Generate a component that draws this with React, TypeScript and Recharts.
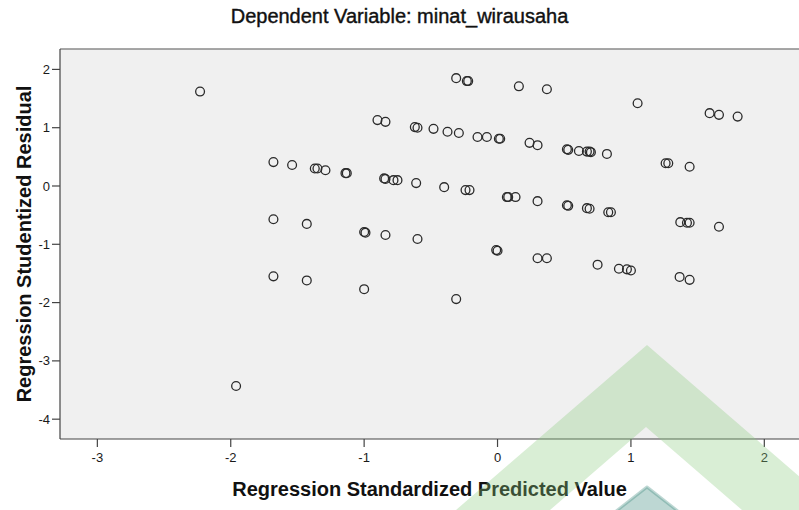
import {
  ScatterChart,
  Scatter,
  XAxis,
  YAxis,
  CartesianGrid,
  ReferenceLine,
} from 'recharts';

const predictedValues = [
  -2.23, -1.96, -1.68, -1.54, -1.68, -1.68, -1.43, -1.43, -1.37, -1.35,
  -1.29, -1.14, -1.13, -1.0, -0.99, -1.0, -0.9, -0.84, -0.85, -0.84,
  -0.78, -0.75, -0.84, -0.62, -0.6, -0.61, -0.6, -0.48, -0.4, -0.375,
  -0.31, -0.29, -0.31, -0.23, -0.22, -0.24, -0.21, -0.15, -0.08, 0.01,
  0.02, -0.01, 0.0, 0.07, 0.08, 0.135, 0.16, 0.24, 0.3, 0.3,
  0.3, 0.37, 0.37, 0.52, 0.53, 0.52, 0.53, 0.61, 0.67, 0.69,
  0.7, 0.67, 0.69, 0.75, 0.82, 0.83, 0.85, 0.91, 0.97, 1.0,
  1.05, 1.26, 1.28, 1.37, 1.365, 1.42, 1.44, 1.44, 1.44, 1.59,
  1.66, 1.66, 1.8,
];

const studentizedResiduals = [
  1.62, -3.43, 0.41, 0.36, -0.57, -1.55, -0.65, -1.62, 0.3, 0.3,
  0.27, 0.22, 0.22, -0.79, -0.8, -1.77, 1.13, 1.1, 0.13, 0.12,
  0.1, 0.1, -0.84, 1.01, 1.0, 0.05, -0.91, 0.98, -0.02, 0.93,
  1.85, 0.91, -1.94, 1.8, 1.8, -0.07, -0.07, 0.84, 0.84, 0.81,
  0.81, -1.1, -1.11, -0.19, -0.19, -0.19, 1.71, 0.74, 0.7, -0.26,
  -1.24, 1.66, -1.24, 0.63, 0.62, -0.33, -0.34, 0.6, 0.59, 0.59,
  0.58, -0.38, -0.39, -1.35, 0.55, -0.45, -0.45, -1.42, -1.43, -1.45,
  1.42, 0.39, 0.39, -0.62, -1.56, -0.63, -0.63, 0.33, -1.61, 1.25,
  1.22, -0.7, 1.19,
];

const xTicks = [-3, -2, -1, 0, 1, 2];
const yTicks = [-4, -3, -2, -1, 0, 1, 2];

const points = predictedValues.map((x, i) => ({ x, y: studentizedResiduals[i] }));

const FONT = '"Liberation Sans", Arial, sans-serif';

const OpenCircle = (props: { cx?: number; cy?: number }) => {
  const { cx, cy } = props;
  if (cx == null || cy == null) return null;
  return <circle cx={cx} cy={cy} r={4.4} fill="none" stroke="#2a2a2a" strokeWidth={1.3} />;
};

export default function App() {
  return (
    <div style={{ position: 'absolute', left: 0, top: 0, width: 799, height: 510, background: '#fff', overflow: 'hidden' }}>
      <ScatterChart width={799} height={510} margin={{ top: 49, right: 0, left: 0, bottom: 41 }}>
        <CartesianGrid horizontal={false} vertical={false} fill="#f0f0f0" stroke="none" />
        <XAxis
          type="number"
          dataKey="x"
          domain={[-3.28, 2.26]}
          ticks={xTicks}
          height={30}
          allowDataOverflow
          tickSize={8}
          tickMargin={6}
          axisLine={{ stroke: '#444', strokeWidth: 1.2 }}
          tickLine={{ stroke: '#444', strokeWidth: 1.2 }}
          tick={{ fill: '#1a1a1a', fontSize: 13, fontFamily: FONT }}
          label={{
            value: 'Regression Standardized Predicted Value',
            position: 'bottom',
            offset: 13,
            fill: '#111',
            fontSize: 20,
            fontWeight: 700,
            fontFamily: FONT,
          }}
        />
        <YAxis
          type="number"
          dataKey="y"
          domain={[-4.34, 2.35]}
          ticks={yTicks}
          width={60}
          allowDataOverflow
          tickSize={8}
          tickMargin={2}
          axisLine={{ stroke: '#444', strokeWidth: 1.2 }}
          tickLine={{ stroke: '#444', strokeWidth: 1.2 }}
          tick={{ fill: '#1a1a1a', fontSize: 13, fontFamily: FONT }}
          label={{
            value: 'Regression Studentized Residual',
            angle: -90,
            position: 'insideLeft',
            offset: 24,
            fill: '#111',
            fontSize: 20,
            fontWeight: 700,
            fontFamily: FONT,
            style: { textAnchor: 'middle' },
          }}
        />
        <ReferenceLine y={2.35} stroke="#8a8a8a" strokeWidth={1.6} ifOverflow="extendDomain" />
        <Scatter data={points} shape={<OpenCircle />} isAnimationActive={false} />
      </ScatterChart>
      <svg width={799} height={510} style={{ position: 'absolute', left: 0, top: 0, pointerEvents: 'none' }}>
        <text
          x={399.5}
          y={23}
          textAnchor="middle"
          fontFamily={FONT}
          fontSize={20}
          fill="#111"
          stroke="#111"
          strokeWidth={0.4}
        >
          Dependent Variable: minat_wirausaha
        </text>
        {/* watermark logo */}
        <polygon
          points="647,345 838,510 742,510 646,427 550,510 456,510"
          fill="rgb(140,204,128)"
          fillOpacity={0.33}
        />
        <polygon
          points="647,487 679,512 615,512"
          fill="rgb(55,134,122)"
          fillOpacity={0.33}
          stroke="rgb(55,134,122)"
          strokeOpacity={0.33}
          strokeLinejoin="round"
          strokeWidth={3}
        />
      </svg>
    </div>
  );
}
